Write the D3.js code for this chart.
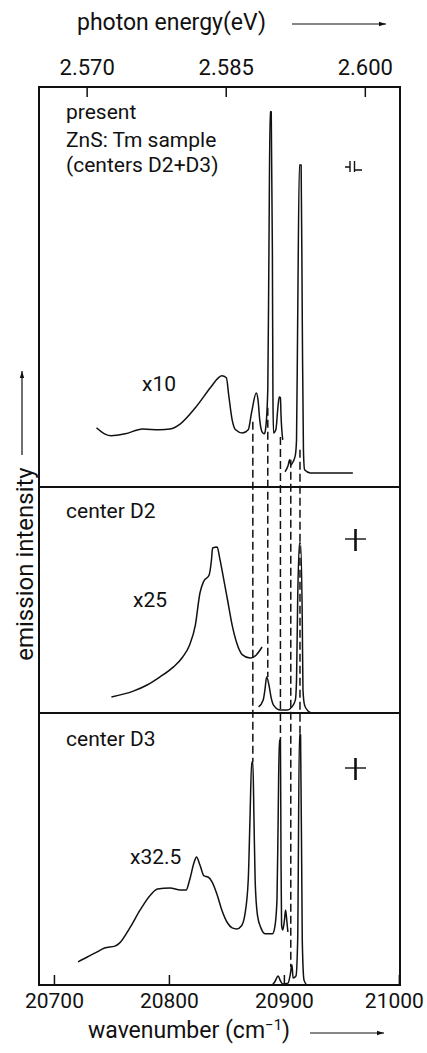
<!DOCTYPE html>
<html>
<head>
<meta charset="utf-8">
<script src="https://cdn.jsdelivr.net/npm/d3@7"></script>
<style>
    body { margin: 0; background: #fff; }
    svg text { font-family: Roboto, "DejaVu Sans", sans-serif; fill: #111; }
</style>
</head>
<body>
<svg id="chart" width="427" height="1053"></svg>
<script>
// axis ticks
const topTicksEV = [2.570, 2.585, 2.600];
const bottomTicks = [20700, 20800, 20900, 21000];

// texts
const panelTitles = [['present', 'ZnS: Tm sample', '(centers D2+D3)'], ['center D2'], ['center D3']];
const gainLabels = ['x10', 'x25', 'x32.5'];

// spectra: [wavenumber (cm-1), intensity in % of panel height]
// top panel, D2+D3, magnified x10 part
const mixScaled = [
    [20737, 14.8], [20744, 13.3], [20750, 12.8], [20762, 13.3], [20777, 14.5], [20792, 14.3],
    [20801, 14.5], [20810, 15.8], [20823, 19.8], [20836, 24.8], [20843, 27.3], [20846, 27.8],
    [20850, 27.3], [20852, 23], [20855, 16.8], [20858, 14.3], [20864, 13.5], [20869, 14.3],
    [20872, 18.8], [20876, 23.5], [20877.5, 21.8], [20879, 16.8], [20881, 13.8], [20883, 13.3],
    [20884, 14.3], [20886, 24.3], [20887, 59], [20888, 93.8], [20889, 93.8], [20890, 59],
    [20890.5, 21.8], [20891, 13.5], [20893, 14.3], [20895, 20.5], [20896, 22.5], [20897, 22.3],
    [20897.5, 18], [20899, 11.8]
];
// top panel, unmagnified part
const mixFull = [
    [20901, 3.8], [20903.6, 5.3], [20905, 6.8], [20906, 5.5], [20908, 6.3], [20910, 8],
    [20911, 11.8], [20912, 41.8], [20913.5, 80.5], [20915, 80.5], [20916, 41.8], [20917, 9.3],
    [20918, 4.3], [20923, 3.5], [20960, 3.5]
];
// center D2, x25 part
const d2Scaled = [
    [20750, 7.1], [20769, 9.7], [20781, 12.4], [20792, 15.9], [20804, 20.4], [20812, 24.8],
    [20818, 30.1], [20823, 38.9], [20827, 53.1], [20830, 58], [20835, 61.1], [20837, 67.7],
    [20838, 73], [20842, 73.5], [20844, 69], [20847, 61], [20851, 50], [20855, 38.9],
    [20859, 31], [20864, 25.7], [20870.5, 24.3], [20876, 25.7], [20881, 29.2]
];
// center D2, x1 part
const d2Full = [
    [20878, 2.7], [20882, 5.8], [20883.5, 10.2], [20885, 15.9], [20887, 12.4], [20889, 6.6],
    [20891, 3.5], [20897, 1.3], [20903, 1.3], [20907, 2.7], [20910, 5.8], [20911, 14.6],
    [20912, 50], [20913.5, 75.2], [20914.5, 75.2], [20916, 41], [20916.6, 10.2], [20918, 3.5],
    [20921, 0.9], [20924, 0]
];
// center D3, x32.5 part
const d3Scaled = [
    [20721, 8.5], [20729, 10.3], [20736, 11.8], [20744, 13.6], [20753, 14.3], [20757, 15.4],
    [20766, 21], [20775, 27.6], [20784, 33.1], [20790, 35.3], [20801, 35.7], [20810, 34.9],
    [20815, 34.9], [20818, 38.6], [20822, 45.2], [20824, 47.1], [20827, 44.1], [20830.5, 40.1],
    [20834, 39.7], [20837.5, 37.9], [20842, 33.1], [20846, 27.6], [20851, 22.8], [20855, 21],
    [20859, 20.6], [20863, 21.7], [20866, 25.7], [20869, 38.6], [20870.5, 60.7], [20872, 82],
    [20873, 82], [20874, 60.7], [20875, 38.6], [20877, 25.7], [20880, 21], [20884, 18.8],
    [20890, 18.8], [20892, 21], [20894, 31.3], [20895, 60.7], [20896, 90], [20897, 90],
    [20897.5, 46], [20898, 22], [20899, 20.2], [20900.5, 23.9], [20901.5, 27.6], [20902.5, 23.9],
    [20903.5, 19.5]
];
// center D3, x1 part
const d3Full = [
    [20890, 0], [20892, 1.1], [20895, 3.3], [20897, 1.5], [20899, 0.4], [20903.6, 0.7],
    [20905.5, 3.7], [20907, 7.4], [20908, 2.6], [20910.5, 3.3], [20912, 16.5], [20913.5, 92],
    [20914.5, 92], [20916, 16.5], [20917.5, 1.8], [20920, 0]
];

// dashed guide lines: wavenumber, start in top panel, end panel and intensity
const guideWn = [20873, 20886, 20897, 20906, 20914];
const guideStart = [16.3, 19.8, 12.5, 6.8, 9.3];
const guideEndPanel = [2, 1, 2, 2, 2];
const guideEnd = [82, 15.9, 90, 6.6, 92];

const EV_TO_WN = 8065.54;

function drawArrow(g, x1, y1, x2, y2) {
    g.append('line')
        .attr('x1', x1).attr('y1', y1).attr('x2', x2).attr('y2', y2)
        .attr('stroke', '#111').attr('stroke-width', 1.2);
    let a = Math.atan2(y2 - y1, x2 - x1), s = 7;
    let p = [[x2, y2],
        [x2 - s * Math.cos(a) + 2.2 * Math.sin(a), y2 - s * Math.sin(a) - 2.2 * Math.cos(a)],
        [x2 - s * Math.cos(a) - 2.2 * Math.sin(a), y2 - s * Math.sin(a) + 2.2 * Math.cos(a)]];
    g.append('path').attr('d', 'M' + p.join('L') + 'Z').attr('fill', '#111');
}

function init() {
    let svg = d3.select('#chart');

    let left = 39, right = 400;
    let panelTop = [87, 487, 713],
        panelBottom = [487, 713, 985];

    let x = d3.scaleLinear().domain([20687, 21001]).range([left, right]);
    let ys = panelTop.map(function(t, i) {
        return d3.scaleLinear().domain([0, 100]).range([panelBottom[i], t]);
    });
    let xEV = d3.scaleLinear()
        .domain(x.domain().map(function(d) { return d / EV_TO_WN; }))
        .range(x.range());

    // frame and panel dividers
    svg.append('rect')
        .attr('x', left).attr('y', panelTop[0])
        .attr('width', right - left).attr('height', panelBottom[2] - panelTop[0])
        .attr('fill', 'none').attr('stroke', '#111').attr('stroke-width', 2);
    svg.selectAll('.divider')
        .data([panelTop[1], panelTop[2]])
        .enter().append('line')
        .attr('class', 'divider')
        .attr('x1', left).attr('x2', right)
        .attr('y1', function(d) { return d; }).attr('y2', function(d) { return d; })
        .attr('stroke', '#111').attr('stroke-width', 2);

    // axes
    let topAxis = d3.axisTop(xEV).tickValues(topTicksEV)
        .tickFormat(d3.format('.3f')).tickSizeInner(-10).tickSizeOuter(0).tickPadding(12);
    let bottomAxis = d3.axisBottom(x).tickValues(bottomTicks)
        .tickFormat(d3.format('d')).tickSizeInner(-10).tickSizeOuter(0).tickPadding(8);

    function customAxis(g, size) {
        g.select('.domain').remove();
        g.selectAll('.tick line').attr('stroke', '#111').attr('stroke-width', 1.5);
        g.selectAll('.tick text').attr('font-size', size).attr('fill', '#111')
            .style('font-family', 'Roboto, sans-serif');
    }

    svg.append('g')
        .attr('transform', 'translate(0,' + panelTop[0] + ')')
        .call(topAxis)
        .call(customAxis, 22);

    let bx = svg.append('g')
        .attr('transform', 'translate(0,' + panelBottom[2] + ')')
        .call(bottomAxis)
        .call(customAxis, 21);
    // keep the last label inside the page
    bx.selectAll('.tick:last-of-type text').attr('dx', -5);

    // axis titles
    svg.append('text').attr('x', 77).attr('y', 30).attr('font-size', 23).text('photon energy(eV)');
    drawArrow(svg, 292, 24, 386, 24);

    let wt = svg.append('text').attr('x', 88).attr('y', 1038).attr('font-size', 23);
    wt.append('tspan').text('wavenumber (cm');
    wt.append('tspan').attr('dy', -8).attr('font-size', 15).text('−1');
    wt.append('tspan').attr('dy', 8).text(')');
    drawArrow(svg, 310, 1033, 384, 1033);

    svg.append('text')
        .attr('transform', 'translate(33,564) rotate(-90)')
        .attr('text-anchor', 'middle')
        .attr('font-size', 24)
        .text('emission intensity');
    drawArrow(svg, 22, 455, 22, 371);

    // dashed guides
    svg.selectAll('.guide')
        .data(guideWn)
        .enter().append('line')
        .attr('class', 'guide')
        .attr('x1', function(d) { return x(d); })
        .attr('x2', function(d) { return x(d); })
        .attr('y1', function(d, i) { return ys[0](guideStart[i]); })
        .attr('y2', function(d, i) { return ys[guideEndPanel[i]](guideEnd[i]); })
        .attr('stroke', '#111').attr('stroke-width', 1.5)
        .attr('stroke-dasharray', '8,4');

    // spectra
    let series = [[mixScaled, mixFull], [d2Scaled, d2Full], [d3Scaled, d3Full]];
    series.forEach(function(pair, i) {
        let line = d3.line()
            .x(function(d) { return x(d[0]); })
            .y(function(d) { return ys[i](d[1]); })
            .curve(d3.curveMonotoneX);
        svg.selectAll('.spec-' + i)
            .data(pair)
            .enter().append('path')
            .attr('class', 'spec-' + i)
            .attr('d', line)
            .attr('fill', 'none')
            .attr('stroke', '#111')
            .attr('stroke-width', 1.5)
            .attr('stroke-linejoin', 'round');
    });

    // panel texts
    let titleY = [[119, 147, 172], [518], [746]];
    panelTitles.forEach(function(lines, i) {
        lines.forEach(function(t, j) {
            svg.append('text').attr('x', 66).attr('y', titleY[i][j])
                .attr('font-size', 21).text(t);
        });
    });

    let gainPos = [[142, 391], [133, 607], [130, 864]];
    gainLabels.forEach(function(t, i) {
        svg.append('text').attr('x', gainPos[i][0]).attr('y', gainPos[i][1])
            .attr('font-size', 21).text(t);
    });

    // polarisation symbols
    svg.append('path')
        .attr('d', 'M345,167H350M350,161V172M354.5,161V172M354.5,170H362')
        .attr('fill', 'none').attr('stroke', '#111').attr('stroke-width', 1.4);
    [539, 768].forEach(function(cy) {
        svg.append('line').attr('x1', 345).attr('x2', 366).attr('y1', cy).attr('y2', cy)
            .attr('stroke', '#111').attr('stroke-width', 1.4);
        svg.append('line').attr('x1', 355.5).attr('x2', 355.5).attr('y1', cy - 10).attr('y2', cy + 12)
            .attr('stroke', '#111').attr('stroke-width', 2.6);
    });
}

init();
</script>
</body>
</html>
